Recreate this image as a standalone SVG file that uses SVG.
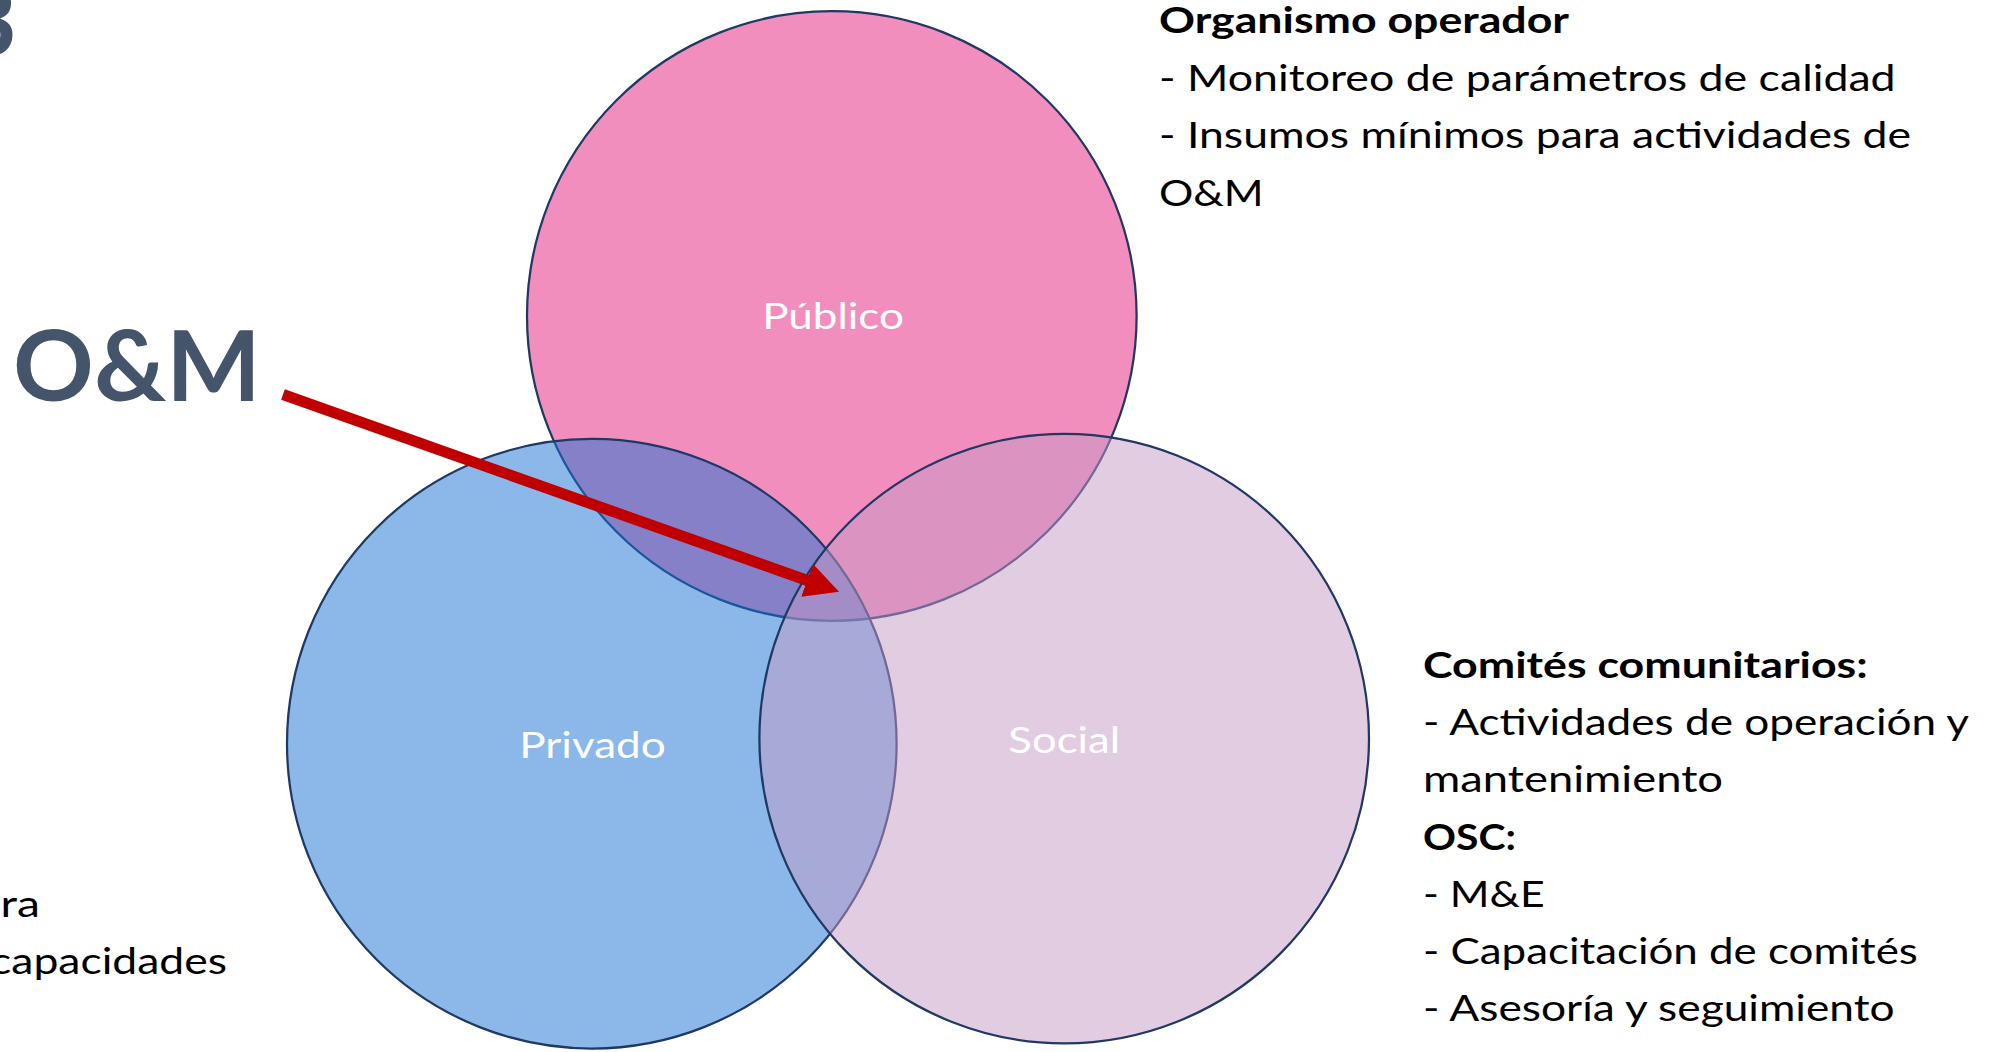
<svg xmlns="http://www.w3.org/2000/svg" width="2002" height="1052" viewBox="0 0 2002 1052">
<defs>
<style>
.c{stroke:#1F3864;stroke-width:2.25;fill-opacity:0.5}
.lbl{font-family:Lato,"Open Sans","Liberation Sans",sans-serif;font-size:36px;fill:#FFFFFF;text-anchor:middle}
.t{font-family:Lato,"Open Sans","Liberation Sans",sans-serif;font-size:36px;fill:#000000}
.b{font-weight:bold}
.big{font-family:Lato,"Open Sans","Liberation Sans",sans-serif;font-size:98px;font-weight:bold;fill:#44546A}
</style>
<marker id="ah" markerUnits="userSpaceOnUse" viewBox="0 -18 36 36" markerWidth="36" markerHeight="36" refX="1" refY="0" orient="auto">
<path d="M0,-17.5 L34,0 L0,17.5 Z" fill="#C00000"/>
</marker>
</defs>
<rect width="2002" height="1052" fill="#FFFFFF"/>
<g id="title-fragment">
<text class="big" x="17" y="56" text-anchor="end">3</text>
</g>
<g id="label-om">
<text class="big" x="13" y="401" textLength="248" lengthAdjust="spacingAndGlyphs">O&amp;M</text>
</g>
<g id="node-publico">
<circle class="c" cx="831.8" cy="316" r="304.8" fill="#E51D7D"/>
<text class="lbl" x="833" y="328.7" textLength="141.6" lengthAdjust="spacingAndGlyphs">Público</text>
</g>
<g id="node-privado">
<circle class="c" cx="591.8" cy="743.7" r="304.8" fill="#1771D1"/>
<text class="lbl" x="592.5" y="758.3" textLength="146.5" lengthAdjust="spacingAndGlyphs">Privado</text>
</g>
<g id="node-social">
<circle class="c" cx="1064.2" cy="738.6" r="304.8" fill="#C399C5"/>
<text class="lbl" x="1064.2" y="753" textLength="111.7" lengthAdjust="spacingAndGlyphs">Social</text>
</g>
<g id="connectors">
<line x1="283" y1="394.5" x2="808" y2="580.7" stroke="#C00000" stroke-width="11" marker-end="url(#ah)"/>
</g>
<g id="text-publico">
<text class="t b" x="1159" y="33" textLength="410" lengthAdjust="spacingAndGlyphs">Organismo operador</text>
<text class="t" x="1159" y="90.5" textLength="736.6" lengthAdjust="spacingAndGlyphs">- Monitoreo de parámetros de calidad</text>
<text class="t" x="1159" y="148" textLength="752" lengthAdjust="spacingAndGlyphs">- Insumos mínimos para actividades de</text>
<text class="t" x="1159" y="205.5" textLength="104.7" lengthAdjust="spacingAndGlyphs">O&amp;M</text>
</g>
<g id="text-social">
<text class="t b" x="1423" y="677.9" textLength="444.8" lengthAdjust="spacingAndGlyphs">Comités comunitarios:</text>
<text class="t" x="1423" y="735.1" textLength="546" lengthAdjust="spacingAndGlyphs">- Actividades de operación y</text>
<text class="t" x="1423" y="792.3" textLength="300" lengthAdjust="spacingAndGlyphs">mantenimiento</text>
<text class="t b" x="1423" y="849.5" textLength="93" lengthAdjust="spacingAndGlyphs">OSC:</text>
<text class="t" x="1423" y="906.7" textLength="121.7" lengthAdjust="spacingAndGlyphs">- M&amp;E</text>
<text class="t" x="1423" y="963.9" textLength="494.8" lengthAdjust="spacingAndGlyphs">- Capacitación de comités</text>
<text class="t" x="1423" y="1021.1" textLength="471.6" lengthAdjust="spacingAndGlyphs">- Asesoría y seguimiento</text>
</g>
<g id="text-privado">
<text class="t" x="40" y="917" text-anchor="end" textLength="39.4" lengthAdjust="spacingAndGlyphs">ra</text>
<text class="t" x="227" y="974" text-anchor="end" textLength="236.9" lengthAdjust="spacingAndGlyphs">capacidades</text>
</g>
</svg>
